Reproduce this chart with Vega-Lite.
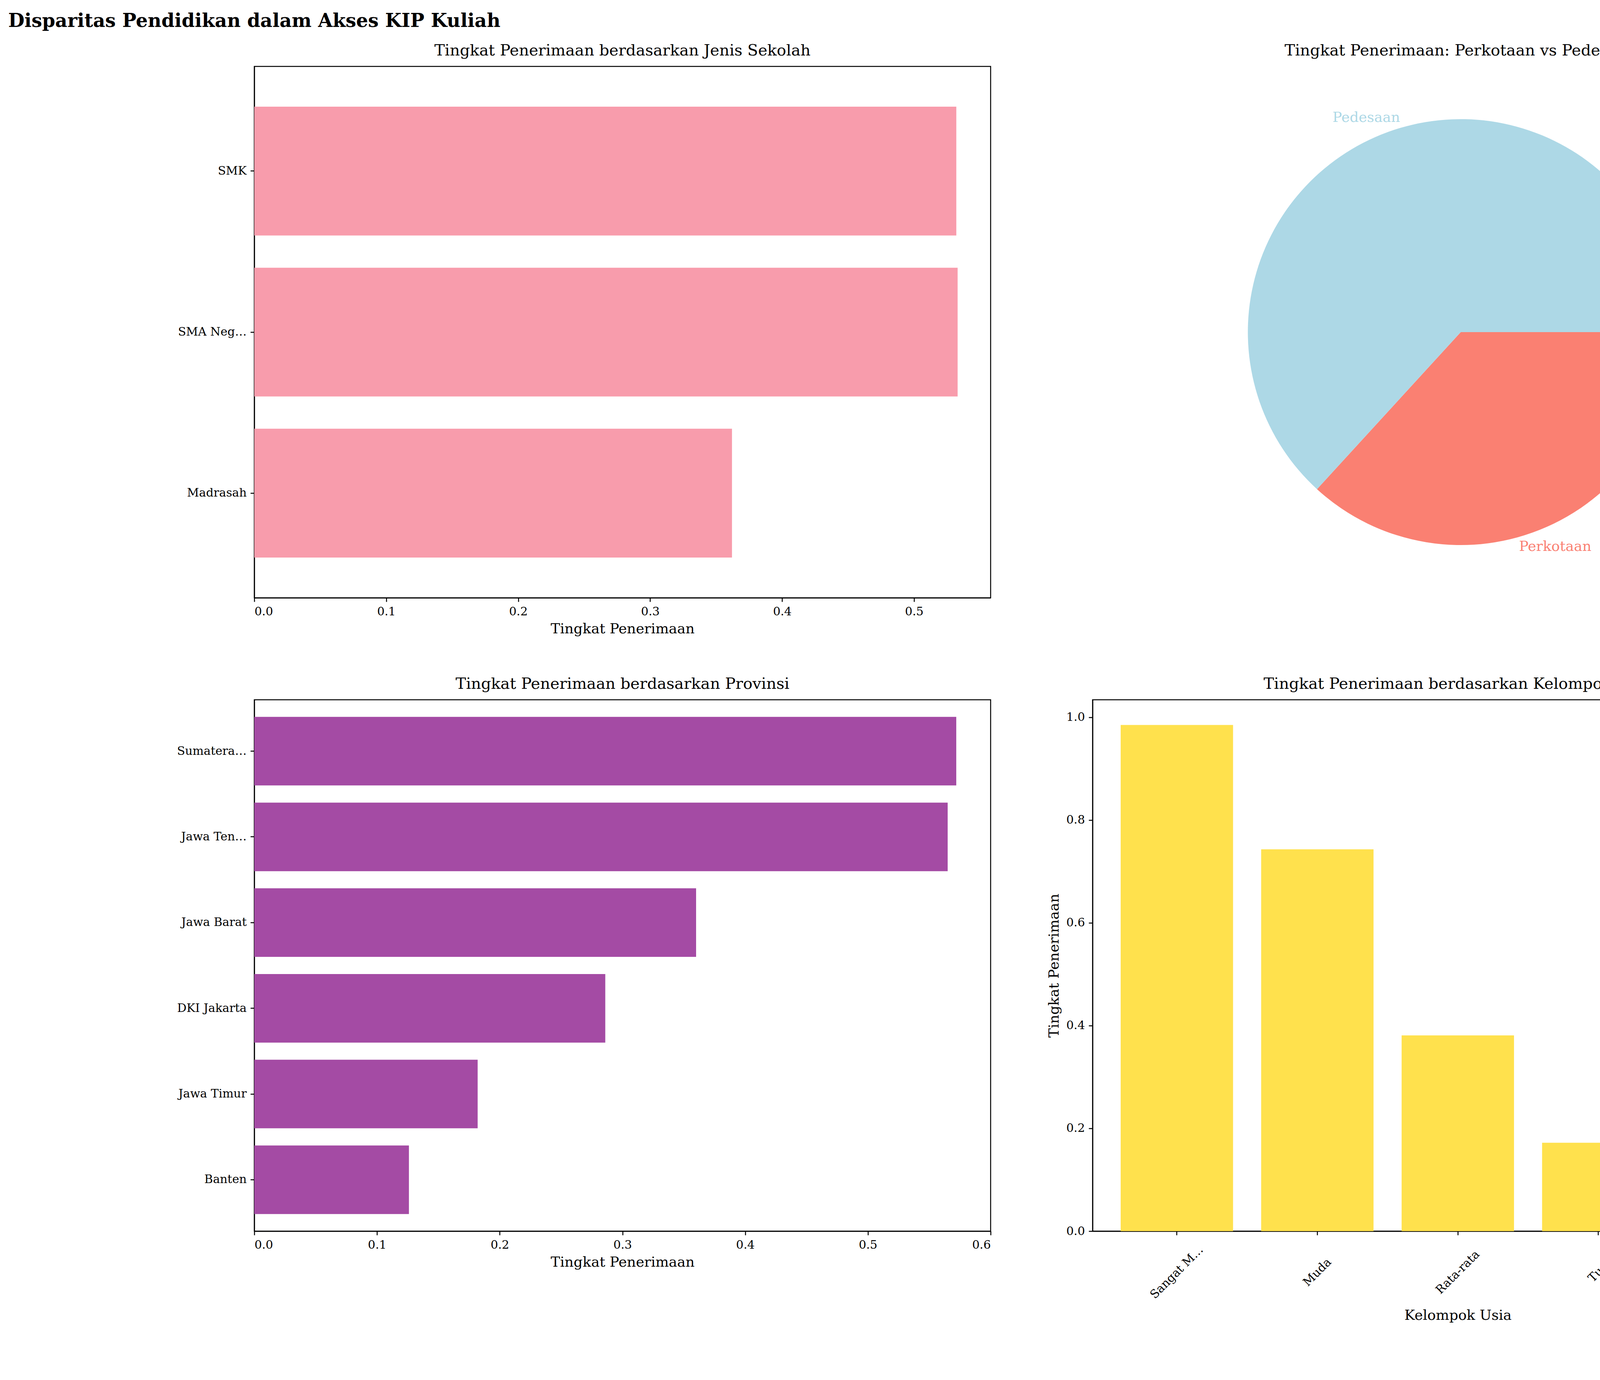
{
  "$schema": "https://vega.github.io/schema/vega-lite/v6.json",
  "padding": {"left": 20, "top": 30, "right": 20, "bottom": 20},
  "background": "white",
  "title": {"text": "Disparitas Pendidikan dalam Akses KIP Kuliah", "fontSize": 48, "fontWeight": "bold", "font": "DejaVu Serif", "anchor": "middle", "frame": "group", "offset": 30},
  "datasets": {
    "sekolah": [
      {"jenis": "SMK", "rate": 0.532},
      {"jenis": "SMA Negeri", "rate": 0.533},
      {"jenis": "Madrasah", "rate": 0.362}
    ],
    "wilayah": [
      {"wilayah": "Perkotaan", "pct": 36.8, "label": "36.8%", "o": 1},
      {"wilayah": "Pedesaan", "pct": 63.2, "label": "63.2%", "o": 2}
    ],
    "provinsi": [
      {"provinsi": "Sumatera Utara", "rate": 0.572},
      {"provinsi": "Jawa Tengah", "rate": 0.565},
      {"provinsi": "Jawa Barat", "rate": 0.36},
      {"provinsi": "DKI Jakarta", "rate": 0.286},
      {"provinsi": "Jawa Timur", "rate": 0.182},
      {"provinsi": "Banten", "rate": 0.126}
    ],
    "usia": [
      {"usia": "Sangat Muda", "rate": 0.985},
      {"usia": "Muda", "rate": 0.743},
      {"usia": "Rata-rata", "rate": 0.381},
      {"usia": "Tua", "rate": 0.172},
      {"usia": "Sangat Tua", "rate": 0.133}
    ]
  },
  "columns": 2,
  "spacing": 261,
  "bounds": "flush",
  "concat": [
    {
      "width": 1885, "height": 1360,
      "title": "Tingkat Penerimaan berdasarkan Jenis Sekolah",
      "data": {"name": "sekolah"},
      "mark": {"type": "bar", "color": "#F89CAC"},
      "encoding": {
        "y": {"field": "jenis", "type": "nominal", "sort": null, "title": null, "scale": {"paddingInner": 0.2, "paddingOuter": 0.25}},
        "x": {"field": "rate", "type": "quantitative", "title": "Tingkat Penerimaan", "scale": {"domain": [0, 0.558], "nice": false}, "axis": {"values": [0, 0.1, 0.2, 0.3, 0.4, 0.5], "format": ".1f"}}
      }
    },
    {
      "width": 1885, "height": 1360,
      "title": "Tingkat Penerimaan: Perkotaan vs Pedesaan",
      "view": {"stroke": null},
      "data": {"name": "wilayah"},
      "encoding": {
        "theta": {"field": "pct", "type": "quantitative", "stack": true, "scale": {"range": [1.5708, 7.854]}},
        "order": {"field": "o"},
        "color": {"field": "wilayah", "type": "nominal", "scale": {"domain": ["Pedesaan", "Perkotaan"], "range": ["#ADD8E6", "#FA8072"]}, "legend": null}
      },
      "layer": [
        {"mark": {"type": "arc", "outerRadius": 545}},
        {"mark": {"type": "text", "radius": 327, "fontSize": 44, "font": "DejaVu Sans", "color": "black"}, "encoding": {"text": {"field": "label"}}},
        {"mark": {"type": "text", "radius": 600, "fontSize": 36, "font": "DejaVu Serif", "color": "black"}, "encoding": {"text": {"field": "wilayah"}}}
      ]
    },
    {
      "width": 1885, "height": 1360,
      "title": "Tingkat Penerimaan berdasarkan Provinsi",
      "data": {"name": "provinsi"},
      "mark": {"type": "bar", "color": "#A44BA4"},
      "encoding": {
        "y": {"field": "provinsi", "type": "nominal", "sort": null, "title": null, "scale": {"paddingInner": 0.2, "paddingOuter": 0.2}},
        "x": {"field": "rate", "type": "quantitative", "title": "Tingkat Penerimaan", "scale": {"domain": [0, 0.6], "nice": false}, "axis": {"values": [0, 0.1, 0.2, 0.3, 0.4, 0.5, 0.6], "format": ".1f"}}
      }
    },
    {
      "width": 1870, "height": 1360,
      "title": "Tingkat Penerimaan berdasarkan Kelompok Usia",
      "data": {"name": "usia"},
      "mark": {"type": "bar", "color": "#FFE14D"},
      "encoding": {
        "x": {"field": "usia", "type": "nominal", "sort": null, "title": "Kelompok Usia", "scale": {"paddingInner": 0.2, "paddingOuter": 0.2}, "axis": {"labelAngle": -45, "labelAlign": "center", "labelBaseline": "middle", "labelPadding": 95, "titlePadding": 20}},
        "y": {"field": "rate", "type": "quantitative", "title": "Tingkat Penerimaan", "scale": {"domain": [0, 1.034], "nice": false}, "axis": {"values": [0, 0.2, 0.4, 0.6, 0.8, 1.0], "format": ".1f"}}
      }
    }
  ],
  "config": {
    "font": "DejaVu Serif",
    "view": {"stroke": "black", "strokeWidth": 2.5},
    "title": {"fontSize": 40, "fontWeight": "normal", "font": "DejaVu Serif", "color": "black", "offset": 20},
    "axis": {"grid": false, "labelFont": "DejaVu Serif", "titleFont": "DejaVu Serif", "labelFontSize": 30, "titleFontSize": 36, "titleFontWeight": "normal", "labelColor": "black", "titleColor": "black", "tickSize": 10, "tickWidth": 2.5, "domainColor": "black", "tickColor": "black", "domainWidth": 2.5, "labelPadding": 10, "titlePadding": 12}
  }
}
